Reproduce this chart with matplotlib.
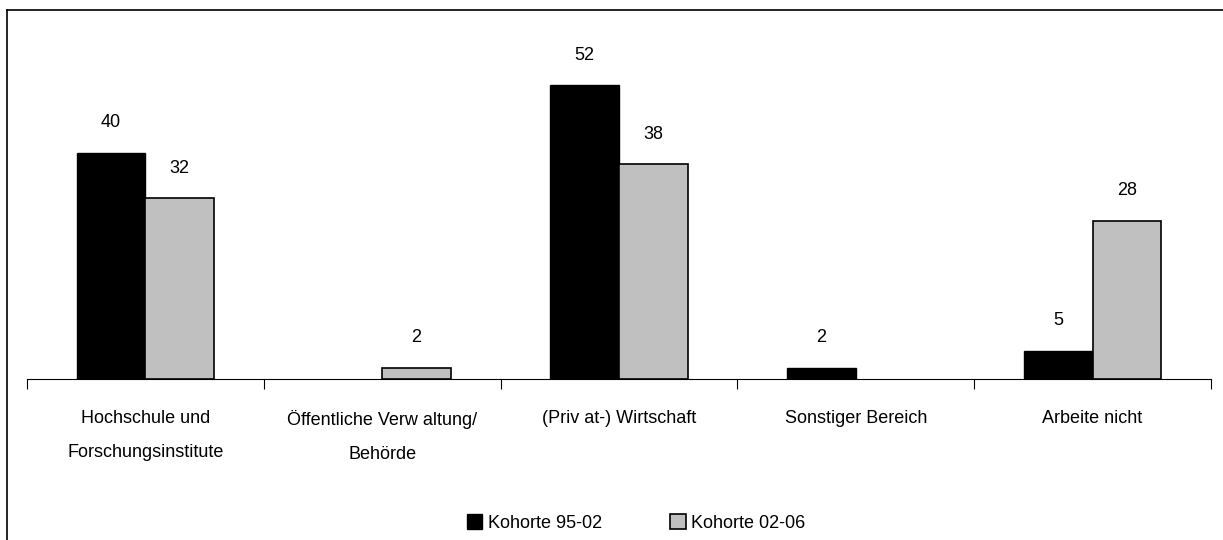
import matplotlib
matplotlib.use("Agg")
import matplotlib.pyplot as plt
from matplotlib.lines import Line2D
import numpy as np

plt.rcParams['font.family'] = ['Liberation Sans', 'DejaVu Sans']

categories = ["Hochschule und\nForschungsinstitute",
              "Öffentliche Verw altung/\nBehörde",
              "(Priv at-) Wirtschaft",
              "Sonstiger Bereich",
              "Arbeite nicht"]
kohorte_95_02 = [40, 0, 52, 2, 5]
kohorte_02_06 = [32, 2, 38, 0, 28]
series_names = ["Kohorte 95-02", "Kohorte 02-06"]

fig = plt.figure(figsize=(12.23, 5.40), dpi=100)
W, H = 1223, 540

# outer frame (top and left edges visible)
fig.add_artist(Line2D([7 / W, 1.0], [1 - 9.5 / H, 1 - 9.5 / H], color="black", lw=1.2))
fig.add_artist(Line2D([7 / W, 7 / W], [0, 1 - 9.5 / H], color="black", lw=1.2))

# axes: x from 27 to 1211 px, baseline at y=379, 0..60 maps to 379..40
ax = fig.add_axes([27 / W, 1 - 379 / H, (1211 - 27) / W, (379 - 40) / H])
ax.set_xlim(0, 5)
ax.set_ylim(0, 60)

x = np.arange(len(categories)) + 0.5
w = 0.29
b1 = ax.bar(x - w / 2, kohorte_95_02, w, color="black", edgecolor="black", lw=1, label=series_names[0])
b2 = ax.bar(x + w / 2, kohorte_02_06, w, color="#c0c0c0", edgecolor="black", lw=1.2, label=series_names[1])

for bars, vals in [(b1, kohorte_95_02), (b2, kohorte_02_06)]:
    for bar, v in zip(bars, vals):
        if v > 0:
            ax.annotate(str(v), (bar.get_x() + bar.get_width() / 2, v),
                        xytext=(0, 15.5), textcoords="offset points",
                        ha="center", va="bottom", fontsize=13)
        else:
            bar.set_visible(False)

for s in ["top", "right", "left"]:
    ax.spines[s].set_visible(False)
ax.spines["bottom"].set_color("black")
ax.spines["bottom"].set_linewidth(0.8)
ax.set_yticks([])
ax.set_xticks(np.arange(6))
ax.set_xticklabels([])
ax.tick_params(axis="x", length=7, width=0.8, direction="out")
ax.set_xticks(x, minor=True)
ax.set_xticklabels(categories, minor=True, fontsize=13, linespacing=2.35, va="top")
ax.tick_params(axis="x", which="minor", length=0, pad=22)

fig.legend(handles=[b1, b2], loc="center", bbox_to_anchor=(636 / W, 1 - 523 / H),
           ncol=2, frameon=False, fontsize=13, handlelength=0.85, handleheight=0.85,
           handletextpad=0.3, columnspacing=3.8)

fig.savefig("out.png", dpi=100)
